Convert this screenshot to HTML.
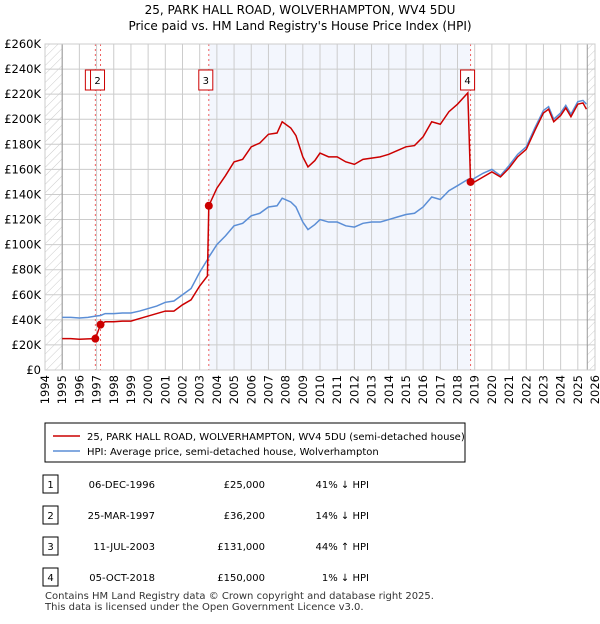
<!DOCTYPE html>
<html><head><meta charset="utf-8"><style>
body{margin:0;background:#fff;font-family:"DejaVu Sans","Liberation Sans",sans-serif;}
svg text{font-family:"DejaVu Sans","Liberation Sans",sans-serif;}
</style></head><body>
<svg id="c" width="600" height="620" xmlns="http://www.w3.org/2000/svg">
<defs><pattern id="h" width="6" height="6" patternUnits="userSpaceOnUse" patternTransform="rotate(45)"><line x1="0" y1="0" x2="0" y2="6" stroke="#ccc" stroke-width="1"/></pattern></defs>
<text x="300" y="14" text-anchor="middle" font-size="12" fill="#000">25, PARK HALL ROAD, WOLVERHAMPTON, WV4 5DU</text>
<text x="300" y="30" text-anchor="middle" font-size="12" fill="#000">Price paid vs. HM Land Registry's House Price Index (HPI)</text>
<g id="plot"></g>
<g>
<rect x="45" y="423" width="420" height="39" fill="#fff" stroke="#000" stroke-width="1"/>
<line x1="53" y1="436" x2="80" y2="436" stroke="#cc0000" stroke-width="1.5"/>
<text x="87" y="440" font-size="10">25, PARK HALL ROAD, WOLVERHAMPTON, WV4 5DU (semi-detached house)</text>
<line x1="53" y1="451" x2="80" y2="451" stroke="#5b8ed6" stroke-width="1.5"/>
<text x="87" y="455" font-size="10">HPI: Average price, semi-detached house, Wolverhampton</text>
</g>
<g id="tbl" font-size="10"></g>
<text x="45" y="599" font-size="10" fill="#333">Contains HM Land Registry data © Crown copyright and database right 2025.</text>
<text x="45" y="610" font-size="10" fill="#333">This data is licensed under the Open Government Licence v3.0.</text>
</svg>
<script>
const years=[1995,1995.5,1996,1996.5,1996.93,1997.23,1997.5,1998,1998.5,1999,1999.5,2000,2000.5,2001,2001.5,2002,2002.5,2003,2003.45,2003.53,2004,2004.5,2005,2005.5,2006,2006.5,2007,2007.5,2007.8,2008.3,2008.6,2009,2009.3,2009.7,2010,2010.5,2011,2011.5,2012,2012.5,2013,2013.5,2014,2014.5,2015,2015.5,2016,2016.5,2017,2017.5,2018,2018.6,2018.76,2019,2019.5,2020,2020.5,2021,2021.5,2022,2022.5,2023,2023.3,2023.6,2024,2024.3,2024.6,2025,2025.3,2025.5];
const hpi=[42,42,41.5,42,43,43.5,45,45,45.5,45.5,47,49,51,54,55,60,65,78,88,90,100,107,115,117,123,125,130,131,137,134,130,118,112,116,120,118,118,115,114,117,118,118,120,122,124,125,130,138,136,143,147,152,151,153,157,160,155,163,172,178,193,207,210,200,205,211,204,214,215,212];
const price=[25,25,24.5,24.8,25,36.2,38.5,38.5,39,39,41,43,45,47,47,52,56,67,75,131,145,155,166,168,178,181,188,189,198,193,187,170,162,167,173,170,170,166,164,168,169,170,172,175,178,179,186,198,196,206,212,221,150,150,154,158,154,161,170,176,191,205,208,198,203,209,202,212,213,208];
const saleYears=[1996.93,1997.23,2003.53,2018.76];
const saleValues=[25,36.2,131,150];
const saleLabels=["1","2","3","4"];
const yTicks=[0,20,40,60,80,100,120,140,160,180,200,220,240,260];
const xTicks=[1994,1995,1996,1997,1998,1999,2000,2001,2002,2003,2004,2005,2006,2007,2008,2009,2010,2011,2012,2013,2014,2015,2016,2017,2018,2019,2020,2021,2022,2023,2024,2025,2026];
const rowDates=["06-DEC-1996","25-MAR-1997","11-JUL-2003","05-OCT-2018"];
const rowPrices=["£25,000","£36,200","£131,000","£150,000"];
const rowHpi=["41% ↓ HPI","14% ↓ HPI","44% ↑ HPI","1% ↓ HPI"];

const X0=45,X1=595,Y0=370,Y1=44;
const xs=y=>X0+(y-1994)/32*(X1-X0);
const ys=v=>Y0-v/260*(Y0-Y1);
const NS="http://www.w3.org/2000/svg";
const g=document.getElementById('plot');
function mk(t,a,p){const e=document.createElementNS(NS,t);for(const k in a)e.setAttribute(k,a[k]);(p||g).appendChild(e);return e;}
let e;
e=mk('rect',{x:xs(2003.53),y:Y1,width:xs(2018.76)-xs(2003.53),height:Y0-Y1,fill:'#f3f6fd'});


e=mk('rect',{x:X0,y:Y1,width:xs(1995)-X0,height:Y0-Y1,fill:'url(#h)'});


e=mk('rect',{x:xs(2025.55),y:Y1,width:X1-xs(2025.55),height:Y0-Y1,fill:'url(#h)'});


yTicks.forEach(v=>{
 e=mk('line',{x1:X0,x2:X1,y1:ys(v),y2:ys(v),stroke:'#ccc','stroke-width':1});
 
 
 e=mk('text',{x:X0-4,y:ys(v)+4,'text-anchor':'end','font-size':11.5});
 e.textContent=v===0?'£0':'£'+v+'K';
 
 
});
xTicks.forEach(yr=>{
 e=mk('line',{x1:xs(yr),x2:xs(yr),y1:Y1,y2:Y0,stroke:'#ccc','stroke-width':1});
 
 
 e=mk('text',{x:0,y:0,'text-anchor':'end','font-size':11.5,transform:`translate(${xs(yr)+4},${Y0+5}) rotate(-90)`});
 e.textContent=yr;
 
 
});
e=mk('line',{x1:xs(1995),x2:xs(1995),y1:Y1,y2:Y0,stroke:'#999'});


e=mk('line',{x1:xs(2025.55),x2:xs(2025.55),y1:Y1,y2:Y0,stroke:'#999'});


saleYears.forEach((yr,i)=>{
 e=mk('line',{x1:xs(yr),x2:xs(yr),y1:Y1,y2:Y0,stroke:'#f06060','stroke-dasharray':'2,3','stroke-width':1});
 
 
});
e=mk('polyline',{points:years.map((y,i)=>xs(y)+','+ys(hpi[i])).join(' '),fill:'none',stroke:'#5b8ed6','stroke-width':1.5});


e=mk('polyline',{points:years.map((y,i)=>xs(y)+','+ys(price[i])).join(' '),fill:'none',stroke:'#cc0000','stroke-width':1.5});


saleYears.forEach((yr,i)=>{
 e=mk('circle',{cx:xs(yr),cy:ys(saleValues[i]),r:4,fill:'#cc0000'});
 
 
 e=mk('rect',{x:xs(yr)-10,y:70,width:14,height:20,fill:'#fff',stroke:'#cc0000'});
 
 
 e=mk('text',{x:xs(yr)-3,y:84,'text-anchor':'middle','font-size':10});
 e.textContent=saleLabels[i];
 
 
});
e=mk('rect',{x:X0,y:Y1,width:X1-X0,height:Y0-Y1,fill:'none',stroke:'#ccc'});


const t=document.getElementById('tbl');
rowDates.forEach((d,i)=>{
 const cy=484+i*31;
 e=mk('rect',{x:43,y:cy-9,width:15,height:18,fill:'#fff',stroke:'#000'},t);
 
 
 e=mk('text',{x:50.5,y:cy+4,'text-anchor':'middle'},t);e.textContent=saleLabels[i];
 
 
 e=mk('text',{x:155,y:cy+4,'text-anchor':'end'},t);e.textContent=d;
 
 
 e=mk('text',{x:265,y:cy+4,'text-anchor':'end'},t);e.textContent=rowPrices[i];
 
 
 e=mk('text',{x:369,y:cy+4,'text-anchor':'end'},t);e.textContent=rowHpi[i];
 
 
});
</script>
</body></html>
